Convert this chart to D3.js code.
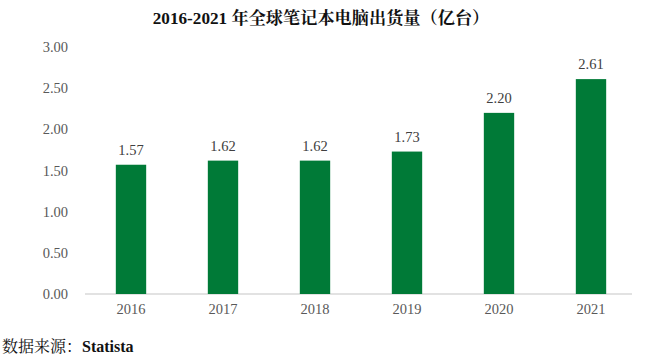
<!DOCTYPE html>
<html><head><meta charset="utf-8">
<script src="https://cdn.jsdelivr.net/npm/d3@7"></script>
<style>body{margin:0;background:#fff}</style>
</head><body>
<svg id="c" width="645" height="361"></svg>
<script>
const years = ["2016","2017","2018","2019","2020","2021"];
const shipments = [1.57,1.62,1.62,1.73,2.20,2.61];
const yTicks = [0,0.5,1,1.5,2,2.5,3];
const title = "2016-2021 年全球笔记本电脑出货量（亿台）";
const sourceLabel = "数据来源：";
const sourceName = "Statista";

const svg = d3.select("#c");
const serif = "'Liberation Serif','Times New Roman','Noto Serif CJK SC','Noto Sans CJK SC',serif";
const x = d3.scaleBand().domain(years).range([85,637]).paddingInner(0.67).paddingOuter(0.335);
const y = d3.scaleLinear().domain([0,3]).range([294,47]);

svg.append("text").attr("x",321).attr("y",24).attr("text-anchor","middle")
  .attr("font-family",serif).attr("font-weight","bold").attr("font-size",17.2).attr("fill","#111").text(title);

const ya = svg.append("g").attr("transform","translate(72,0)")
  .call(d3.axisLeft(y).tickValues(yTicks).tickFormat(d3.format(".2f")).tickSize(0).tickPadding(4));
ya.select(".domain").remove();
ya.selectAll("text").attr("font-family",serif).attr("font-size",14.5).attr("fill","#595959");

const xa = svg.append("g").attr("transform","translate(0,294)")
  .call(d3.axisBottom(x).tickSize(0).tickPadding(10));
xa.select(".domain").attr("stroke","#d9d9d9").attr("stroke-width",1.5).attr("d","M85,0H632");
xa.selectAll("text").attr("font-family",serif).attr("font-size",14.5).attr("fill","#595959");

svg.selectAll("rect.bar").data(years).enter().append("rect").attr("class","bar")
  .attr("x",d=>x(d)).attr("width",x.bandwidth())
  .attr("y",(d,i)=>y(shipments[i])).attr("height",(d,i)=>y(0)-y(shipments[i]))
  .attr("fill","#007a37");

svg.selectAll("text.val").data(years).enter().append("text").attr("class","val")
  .attr("x",d=>x(d)+x.bandwidth()/2).attr("y",(d,i)=>y(shipments[i])-10)
  .attr("text-anchor","middle").attr("font-family",serif).attr("font-size",14.5).attr("fill","#404040")
  .text((d,i)=>shipments[i].toFixed(2));

const src = svg.append("text").attr("x",2).attr("y",352).attr("font-family",serif).attr("font-size",16)
  .attr("fill","#111");
src.append("tspan").text(sourceLabel);
src.append("tspan").attr("font-weight","bold").text(sourceName);
</script>
</body></html>
